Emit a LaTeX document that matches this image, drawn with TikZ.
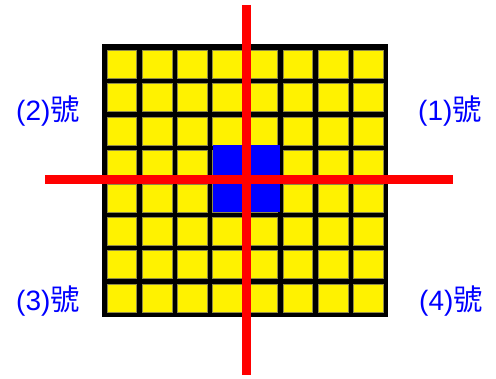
\documentclass[tikz,border=0pt]{standalone}
\usepackage{fontspec}
\setmainfont{Liberation Sans}
\newfontfamily\cjk[Scale=1.05]{Noto Sans CJK TC}
\usetikzlibrary{positioning}

\begin{document}
\begin{tikzpicture}[
  x=1pt, y=-1pt,
  cell/.style={fill=yellow, draw=black!50!yellow, line width=0.4pt},
  quad/.style={text=blue, font=\fontsize{28}{28}\selectfont, inner sep=0pt},
  cross/.style={draw=red, line width=9.5pt},
]
\useasboundingbox (0,0) rectangle (496,379);

% board
\fill[black] (101.7,44.3) rectangle (388.3,317.3);
\foreach \i in {0,...,7}
  \foreach \j in {0,...,7}
    \filldraw[cell] ({107+35.2*\i},{50.3+33.4*\j}) rectangle ++(29.5,28);
\fill[blue] (213,145) rectangle (280,212);

% axes
\coordinate (top) at (246.5,5);
\coordinate (bottom) at (246.5,375);
\coordinate (left) at (45.3,179.6);
\coordinate (right) at (452.7,179.6);
\draw[cross] (top) -- (bottom);
\draw[cross] (left) -- (right);

% quadrant labels
\node[quad] (q1) at (450,111) {(1){\cjk 號}};
\node[quad] (q2) at (48,111) {(2){\cjk 號}};
\node[quad] (q3) at (48,301) {(3){\cjk 號}};
\node[quad] (q4) at (451,301) {(4){\cjk 號}};
\end{tikzpicture}
\end{document}
